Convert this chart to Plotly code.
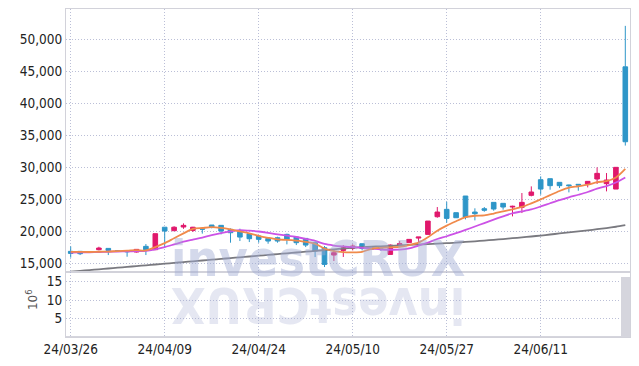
import plotly.graph_objects as go

dates = ["24/03/26","24/03/27","24/03/28","24/03/29","24/04/01","24/04/02","24/04/03","24/04/04","24/04/05","24/04/08",
         "24/04/09","24/04/11","24/04/12","24/04/15","24/04/16","24/04/17","24/04/18","24/04/19","24/04/22","24/04/23",
         "24/04/24","24/04/25","24/04/26","24/04/29","24/04/30","24/05/02","24/05/03","24/05/07","24/05/08","24/05/09",
         "24/05/10","24/05/13","24/05/14","24/05/16","24/05/17","24/05/20","24/05/21","24/05/22","24/05/23","24/05/24",
         "24/05/27","24/05/28","24/05/29","24/05/30","24/05/31","24/06/03","24/06/04","24/06/05","24/06/07","24/06/10",
         "24/06/11","24/06/12","24/06/13","24/06/14","24/06/17","24/06/18","24/06/19","24/06/20","24/06/21","24/06/24"]

opens = [16880,16880,16800,17140,17340,17000,16900,16770,17660,17135,
         20650,20100,20680,20150,20400,20990,20940,20310,19950,19640,
         19270,18900,19010,19530,19110,18900,18230,17450,16300,17030,
         17340,18070,17300,17500,16400,17900,18230,18950,19530,22290,
         23440,22920,25520,23020,23540,24530,24380,23800,23750,25630,
         28070,28230,27660,27250,27350,27400,28180,27450,26610,45700]
highs = [17650,16880,16850,17600,17340,17050,16900,17190,18020,19640,
         20650,20800,21250,20700,20400,20990,20940,20470,20420,19640,
         19270,18900,19170,19640,19270,18900,18230,17710,17190,17860,
         17970,18070,17400,17550,17970,18490,18750,19110,21610,23800,
         24630,22920,25520,23600,23800,24530,24380,24010,25990,27030,
         28590,28230,27660,27290,27400,27810,30000,29110,30000,52100]
lows = [15900,16300,16650,17030,16300,16900,16040,16700,16300,17135,
        17500,20100,20400,19900,19650,20470,19530,18230,18490,18330,
        18230,18070,18230,17970,17860,17550,15990,14430,15370,16000,
        17030,17030,17150,16970,16400,17710,18230,18330,19530,22130,
        21350,22130,21870,21720,23070,23230,23390,22340,22860,25470,
        25730,26510,26770,26090,26350,26870,27400,26250,26610,33400]
closes = [16560,16510,16750,17400,17030,16950,16820,17190,17130,19640,
          20050,20650,20940,20650,20350,20680,20050,19790,19110,18850,
          18750,18490,18490,18750,18230,17860,16930,14840,16670,17450,
          17710,17340,17250,17400,17860,18070,18750,19110,21610,23020,
          22030,22130,22240,22760,23300,23490,23800,23910,24530,26150,
          26610,27140,27140,27140,27240,27810,29060,28020,30000,34000]

ma5 = [16800,16790,16780,16820,16850,16930,16990,17080,17020,17550,
       18170,18930,19680,20390,20530,20650,20530,20300,20000,19700,
       19310,19000,18740,18670,18540,18360,18050,17320,16910,16750,
       16720,16800,17280,17430,17510,17580,17870,18240,19080,20110,
       20900,21580,22210,22440,22490,22780,23120,23450,23810,24380,
       25000,25670,26310,26840,27050,27290,27680,27850,28430,29780]
ma10 = [16700,16720,16740,16780,16820,16850,16870,16900,16950,17200,
        17550,17960,18380,18710,19040,19410,19730,19990,20190,20110,
        19980,19770,19520,19330,19120,18840,18530,18030,17790,17650,
        17540,17430,17300,17170,17130,17150,17330,17760,18260,18810,
        19240,19720,20220,20760,21300,21840,22350,22830,23120,23430,
        23890,24390,24880,25320,25720,26150,26670,27080,27630,28420]
ma60 = [13700,13825,13950,14075,14200,14325,14450,14575,14700,14825,
        14950,15075,15200,15325,15450,15575,15700,15825,15950,16075,
        16200,16325,16450,16575,16700,16825,16950,17075,17200,17325,
        17440,17520,17600,17670,17740,17810,17880,17950,18010,18080,
        18150,18250,18350,18450,18560,18680,18800,18930,19060,19200,
        19350,19510,19670,19830,19990,20160,20340,20520,20720,20960]

volume_m = [0.05,0.03,0.02,0.04,0.03,0.02,0.03,0.03,0.04,0.12,
            0.10,0.06,0.05,0.04,0.03,0.03,0.04,0.05,0.05,0.04,
            0.03,0.03,0.03,0.04,0.04,0.05,0.07,0.11,0.08,0.06,
            0.04,0.04,0.02,0.03,0.05,0.04,0.05,0.04,0.13,0.15,
            0.12,0.06,0.14,0.08,0.05,0.06,0.05,0.04,0.07,0.10,
            0.11,0.07,0.05,0.04,0.03,0.05,0.09,0.07,0.12,16.2]

price_ticks = [15000, 20000, 25000, 30000, 35000, 40000, 45000, 50000]
vol_ticks = [5, 10, 15]
date_ticks = ["24/03/26", "24/04/09", "24/04/24", "24/05/10", "24/05/27", "24/06/11"]

RED = "#e0186c"
BLUE = "#2e96c8"
ORANGE = "#f08a4b"
PURPLE = "#cc52e6"
GREY = "#7a7a80"
GRID = "rgba(175,180,208,0.85)"
FRAME = "#d2d2da"
FONT = "DejaVu Sans Condensed, sans-serif"

fig = go.Figure()
fig.add_trace(go.Candlestick(
    x=dates, open=opens, high=highs, low=lows, close=closes,
    increasing=dict(line=dict(color=RED, width=1), fillcolor=RED),
    decreasing=dict(line=dict(color=BLUE, width=1), fillcolor=BLUE),
    whiskerwidth=0, showlegend=False, hoverinfo="skip",
    xaxis="x", yaxis="y"))
for vals, col in [(ma60, GREY), (ma10, PURPLE), (ma5, ORANGE)]:
    fig.add_trace(go.Scatter(x=dates, y=vals, mode="lines",
                             line=dict(color=col, width=1.8, shape="spline", smoothing=0.8),
                             showlegend=False, hoverinfo="skip", xaxis="x", yaxis="y"))
fig.add_trace(go.Bar(x=dates, y=volume_m, marker=dict(color="#d5d5dd", line=dict(width=0)),
                     showlegend=False, hoverinfo="skip", xaxis="x2", yaxis="y2"))

common_x = dict(type="category", categoryorder="array", categoryarray=dates,
                range=[-0.5, len(dates) - 0.5], tickvals=date_ticks, ticktext=date_ticks,
                showgrid=True, gridcolor=GRID, griddash="1px,2px", gridwidth=1,
                showline=True, mirror=True, linecolor=FRAME, linewidth=1.2,
                ticks="", zeroline=False, fixedrange=True, automargin=False)
common_y = dict(showgrid=True, gridcolor=GRID, griddash="1px,2px", gridwidth=1,
                showline=True, mirror=True, linecolor=FRAME, linewidth=1.2,
                ticks="", zeroline=False, fixedrange=True, automargin=False)

fig.update_layout(
    width=639, height=366,
    margin=dict(l=66, r=9, t=9, b=29),
    paper_bgcolor="white", plot_bgcolor="white",
    font=dict(family=FONT, size=13.5, color="#222"),
    bargap=0,
    xaxis=dict(anchor="y", domain=[0, 1], showticklabels=False,
               rangeslider=dict(visible=False), **common_x),
    xaxis2=dict(anchor="y2", domain=[0, 1], showticklabels=True, **common_x),
    yaxis=dict(anchor="x", domain=[0.197, 1], range=[13594, 54734],
               tickvals=price_ticks, tickformat=",", **common_y),
    yaxis2=dict(anchor="x2", domain=[0, 0.197], range=[0, 17.5],
                tickvals=vol_ticks, **common_y),
    annotations=[
        dict(text="10<sup>6</sup>", xref="paper", yref="paper", x=-0.06, y=0.113,
             textangle=-90, showarrow=False, xanchor="center", yanchor="middle",
             font=dict(family="DejaVu Sans", size=12, color="#555")),
        dict(text="<b>investCRUX</b>", xref="paper", yref="paper", x=0.447, y=0.143,
             showarrow=False, xanchor="center", yanchor="bottom",
             font=dict(family=FONT, size=50, color="rgba(160,170,210,0.45)")),
        dict(text="<b>investCRUX</b>", xref="paper", yref="paper", x=0.447, y=0.19,
             showarrow=False, xanchor="center", yanchor="top", textangle=180,
             font=dict(family=FONT, size=50, color="rgba(160,170,210,0.28)")),
    ],
)

fig.write_html("out.html", config={"displayModeBar": False},
               post_script="document.body.style.margin='0';")
